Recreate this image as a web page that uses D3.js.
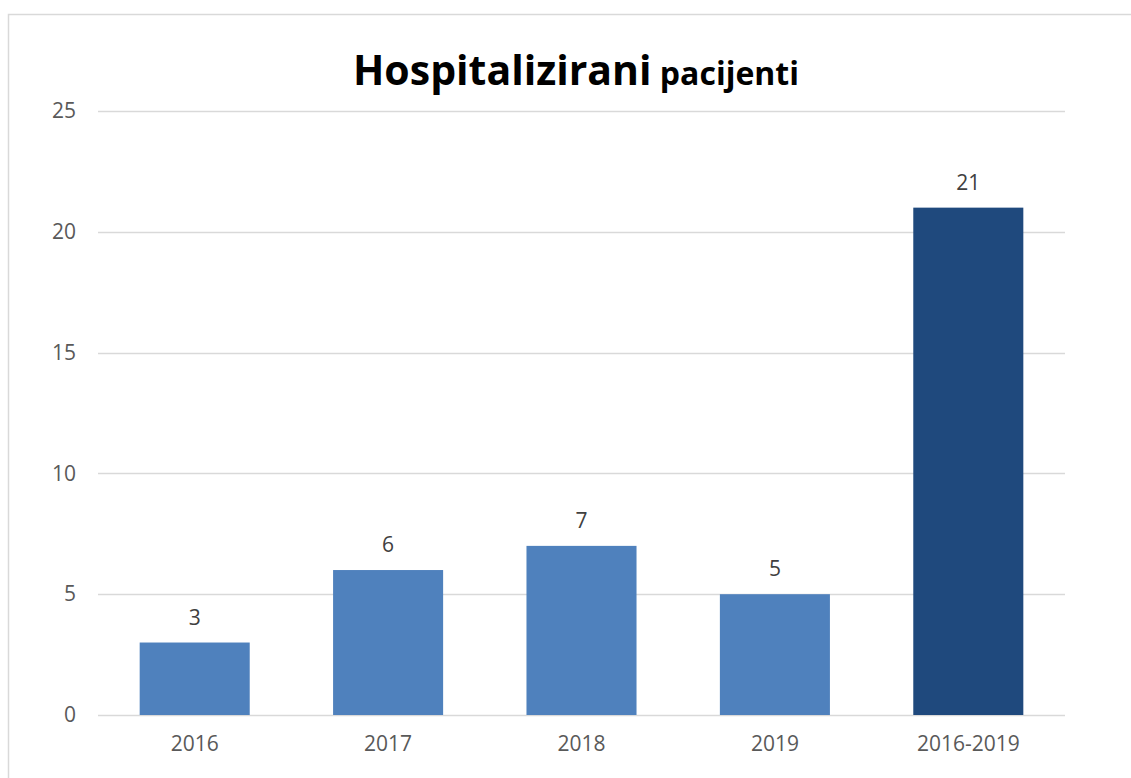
<!DOCTYPE html>
<html>
<head>
<meta charset="utf-8">
<script src="https://cdn.jsdelivr.net/npm/d3@7"></script>
<style>
    body { margin: 0; background: white; }
    text { font-family: "Open Sans", "Noto Sans", sans-serif; }
</style>
</head>
<body>
<div id="chart"></div>
<script>
// chart values
const categories = ["2016", "2017", "2018", "2019", "2016-2019"];
const values = [3, 6, 7, 5, 21];
const yTicks = [0, 5, 10, 15, 20, 25];
const barColours = ["#4f81bd", "#4f81bd", "#4f81bd", "#4f81bd", "#1f497d"];

const width = 1131;
const height = 778;

const svg = d3.select("#chart").append("svg")
    .attr("width", width)
    .attr("height", height);

// outer frame of the chart area
svg.append("rect")
    .attr("x", 8.5)
    .attr("y", 14.5)
    .attr("width", width)
    .attr("height", height)
    .attr("fill", "white")
    .attr("stroke", "#d9d9d9")
    .attr("stroke-width", 1.5);

// title, two sizes like the original
const title = svg.append("text")
    .attr("x", 576)
    .attr("y", 85)
    .attr("text-anchor", "middle")
    .attr("font-weight", "bold")
    .attr("fill", "#000");
title.append("tspan").attr("font-size", 41).text("Hospitalizirani");
title.append("tspan").attr("font-size", 32).text(" pacijenti");

const x = d3.scaleBand()
    .domain(categories)
    .range([98, 1065])
    .paddingInner(0.431)
    .paddingOuter(0.2155);

const y = d3.scaleLinear()
    .domain([0, 25])
    .range([715, 111]);

// gridlines
svg.append("g")
    .selectAll("line")
    .data(yTicks)
    .join("line")
    .attr("x1", 98)
    .attr("x2", 1065)
    .attr("y1", d => Math.round(y(d)) + 0.5)
    .attr("y2", d => Math.round(y(d)) + 0.5)
    .attr("stroke", "#d9d9d9")
    .attr("stroke-width", 1.5);

// y axis labels
const yAxis = svg.append("g")
    .attr("transform", "translate(76,0)")
    .call(d3.axisLeft(y).tickValues(yTicks).tickSize(0).tickPadding(0));
yAxis.select(".domain").remove();
yAxis.selectAll("text")
    .style("font-size", "21px")
    .attr("fill", "#595959")
    .style("font-family", "'Open Sans', sans-serif");

// bars
svg.append("g")
    .selectAll("rect")
    .data(values)
    .join("rect")
    .attr("x", (d, i) => x(categories[i]))
    .attr("y", d => y(d))
    .attr("width", x.bandwidth())
    .attr("height", d => y(0) - y(d))
    .attr("fill", (d, i) => barColours[i]);

// bar value labels
svg.append("g")
    .selectAll("text")
    .data(values)
    .join("text")
    .attr("x", (d, i) => x(categories[i]) + x.bandwidth() / 2)
    .attr("y", d => y(d) - 18)
    .attr("text-anchor", "middle")
    .style("font-size", "21px")
    .attr("fill", "#404040")
    .text(d => d);

// x axis labels
const xAxis = svg.append("g")
    .attr("transform", "translate(0,715)")
    .call(d3.axisBottom(x).tickSize(0).tickPadding(21));
xAxis.select(".domain").remove();
xAxis.selectAll("text")
    .style("font-size", "21px")
    .attr("fill", "#595959")
    .style("font-family", "'Open Sans', sans-serif");
</script>
</body>
</html>
